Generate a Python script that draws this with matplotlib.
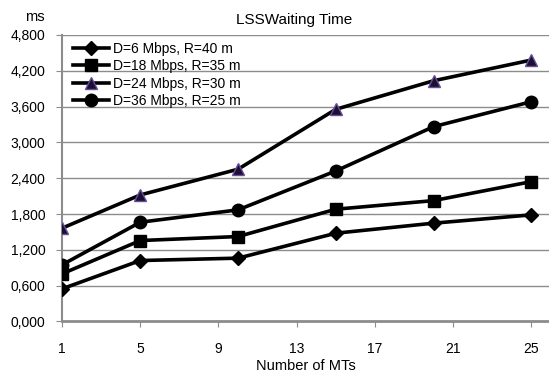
import matplotlib
matplotlib.use("Agg")
import matplotlib.pyplot as plt
from matplotlib.ticker import FuncFormatter

plt.rcParams['font.family'] = ['Liberation Sans', 'DejaVu Sans']

# number of MTs
mts = [1, 5, 10, 15, 20, 25]

# waiting time (ms) per configuration
d6_r40 = [547, 1021, 1061, 1479, 1647, 1786]
d18_r35 = [798, 1356, 1423, 1881, 2025, 2343]
d24_r30 = [1563, 2120, 2551, 3555, 4033, 4380]
d36_r25 = [949, 1663, 1870, 2522, 3264, 3682]

labels = ['D=6 Mbps, R=40 m', 'D=18 Mbps, R=35 m',
          'D=24 Mbps, R=30 m', 'D=36 Mbps, R=25 m']
xticks = [1, 5, 9, 13, 17, 21, 25]
yticks = [0, 600, 1200, 1800, 2400, 3000, 3600, 4200, 4800]

fig = plt.figure(figsize=(5.49, 3.76), dpi=100)
ax = fig.add_axes([0.113, 0.145, 0.887, 0.762])

grey = '#8c8c8c'
for v in yticks[1:]:
    ax.axhline(v, color=grey, lw=1.0, zorder=1)

ax.plot(mts, d6_r40, color='black', lw=2.6, marker='D', markersize=7,
        markerfacecolor='black', markeredgecolor='black', label=labels[0], zorder=3)
ax.plot(mts, d18_r35, color='black', lw=2.6, marker='s', markersize=8,
        markerfacecolor='black', markeredgecolor='black', label=labels[1], zorder=3)
ax.plot(mts, d24_r30, color='black', lw=2.6, marker='^', markersize=9,
        markerfacecolor='#1a1030', markeredgecolor='#6a4c9c', markeredgewidth=1.0,
        label=labels[2], zorder=3)
ax.plot(mts, d36_r25, color='black', lw=2.6, marker='o', markersize=9,
        markerfacecolor='black', markeredgecolor='black', label=labels[3], zorder=3)

ax.set_xlim(1, 25.9)
ax.set_ylim(0, 4800)
ax.set_xticks(xticks)
ax.set_yticks(yticks)
ax.yaxis.set_major_formatter(FuncFormatter(lambda v, p: f"{int(v) // 1000},{int(v) % 1000:03d}"))

for s in ['top', 'right']:
    ax.spines[s].set_visible(False)
ax.spines['left'].set_color(grey)
ax.spines['left'].set_linewidth(1.5)
ax.spines['bottom'].set_color(grey)
ax.spines['bottom'].set_linewidth(2.0)
ax.tick_params(axis='x', length=4, color=grey, labelsize=10, pad=11)
ax.tick_params(axis='y', length=4, color=grey, labelsize=10, pad=8)
ax.patch.set_visible(False)

ax.set_xlabel('Number of MTs', fontsize=10.5, labelpad=2)
fig.text(0.536, 0.947, 'LSSWaiting Time', ha='center', va='center', fontsize=11)
fig.text(0.064, 0.955, 'ms', ha='center', va='center', fontsize=10.5)

leg = ax.legend(loc='upper left', bbox_to_anchor=(0.005, 1.005), frameon=False,
                fontsize=10, handlelength=2.6, handletextpad=0.3,
                labelspacing=0.25, borderaxespad=0.2)

fig.savefig('out.png', dpi=100)
